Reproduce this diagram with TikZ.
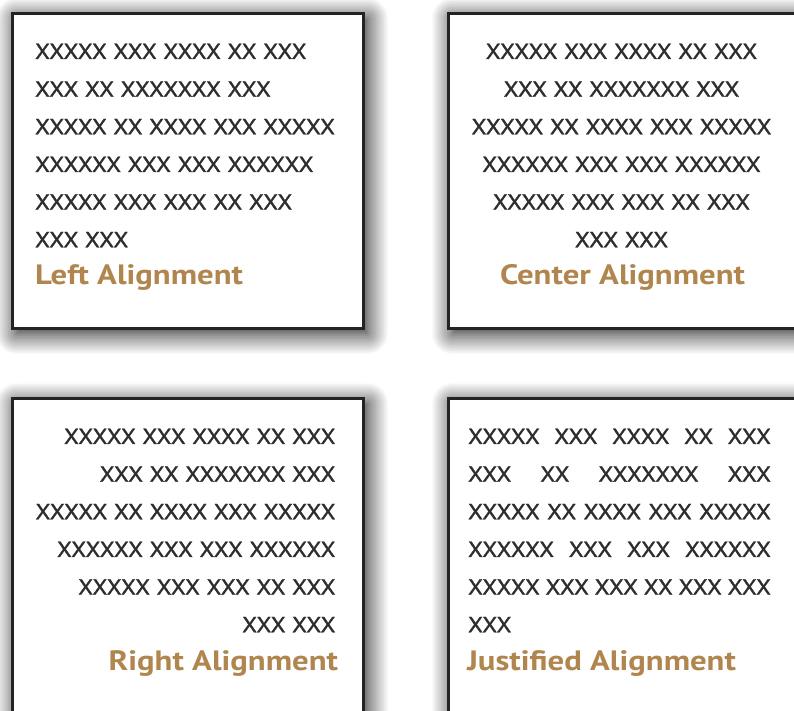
\documentclass[tikz,border=0pt]{standalone}
\usepackage{fontspec}
\usepackage{graphicx}
\setmainfont{PT Sans}
\newfontfamily\xfont[FakeBold=1.2]{PT Sans}
\usetikzlibrary{shadows.blur}
\definecolor{xgray}{RGB}{45,45,45}
\definecolor{labelbrown}{RGB}{176,134,78}
\definecolor{edgegray}{RGB}{35,35,35}
\newlength\wRef
\newlength\hRef
\newlength\wLab
\newlength\hLab
\newcommand\xl[1]{\scalebox{\kx}[\ky]{\xfont #1}}
\newcommand\xj[1]{\scalebox{\kx}[\ky]{\makebox[\wJ][s]{\xfont #1}}}
\newcommand\lb[1]{\scalebox{\lkx}[\lky]{\bfseries #1}}
\begin{document}
\settowidth\wRef{\xfont XXXXX XX XXXX XXX XXXXX}%
\settoheight\hRef{\xfont X}%
\settowidth\wLab{\bfseries Center Alignment}%
\settoheight\hLab{\bfseries C}%
\pgfmathsetmacro\kx{300/\wRef}%
\pgfmathsetmacro\ky{15.3/\hRef}%
\pgfmathsetmacro\lkx{245/\wLab}%
\pgfmathsetmacro\lky{20/\hLab}%
\pgfmathsetlengthmacro\wJ{303/\kx}%
\begin{tikzpicture}[x=1pt,y=1pt,
  panel/.style={draw=edgegray, line width=3.5pt, fill=white, rectangle,
    minimum width=351pt, minimum height=315pt, inner sep=0pt,
    blur shadow={shadow xshift=4pt, shadow yshift=-5pt, shadow blur radius=21pt, shadow blur steps=14, shadow opacity=95}},
  xline/.style={inner sep=0pt, outer sep=0pt, text=xgray},
  lab/.style={inner sep=0pt, outer sep=0pt, text=labelbrown}]
\useasboundingbox (0,0) rectangle (794,711);
\clip (0,0) rectangle (794,711);
% panels
\node[panel] (p1) at (188,540) {};
\node[panel] (p2) at (624,540) {};
\node[panel] (p3) at (188,155) {};
\node[panel] (p4) at (624,155) {};
% Left alignment
\node[xline, anchor=base west] (a1) at (35,652) {\xl{XXXXX XXX XXXX XX XXX}};
\node[xline, anchor=base west] (a2) at (35,614.3) {\xl{XXX XX XXXXXXX XXX}};
\node[xline, anchor=base west] (a3) at (35,576.7) {\xl{XXXXX XX XXXX XXX XXXXX}};
\node[xline, anchor=base west] (a4) at (35,539) {\xl{XXXXXX XXX XXX XXXXXX}};
\node[xline, anchor=base west] (a5) at (35,501.4) {\xl{XXXXX XXX XXX XX XXX}};
\node[xline, anchor=base west] (a6) at (35,463.7) {\xl{XXX XXX}};
\node[lab, anchor=base west] (la) at (35,426) {\lb{Left Alignment}};
% Center alignment
\node[xline, anchor=base] (b1) at (621.5,652) {\xl{XXXXX XXX XXXX XX XXX}};
\node[xline, anchor=base] (b2) at (621.5,614.3) {\xl{XXX XX XXXXXXX XXX}};
\node[xline, anchor=base] (b3) at (621.5,576.7) {\xl{XXXXX XX XXXX XXX XXXXX}};
\node[xline, anchor=base] (b4) at (621.5,539) {\xl{XXXXXX XXX XXX XXXXXX}};
\node[xline, anchor=base] (b5) at (621.5,501.4) {\xl{XXXXX XXX XXX XX XXX}};
\node[xline, anchor=base] (b6) at (621.5,463.7) {\xl{XXX XXX}};
\node[lab, anchor=base] (lb) at (622.5,426) {\lb{Center Alignment}};
% Right alignment
\node[xline, anchor=base east] (c1) at (335.5,267) {\xl{XXXXX XXX XXXX XX XXX}};
\node[xline, anchor=base east] (c2) at (335.5,229.3) {\xl{XXX XX XXXXXXX XXX}};
\node[xline, anchor=base east] (c3) at (335.5,191.7) {\xl{XXXXX XX XXXX XXX XXXXX}};
\node[xline, anchor=base east] (c4) at (335.5,154) {\xl{XXXXXX XXX XXX XXXXXX}};
\node[xline, anchor=base east] (c5) at (335.5,116.4) {\xl{XXXXX XXX XXX XX XXX}};
\node[xline, anchor=base east] (c6) at (335.5,78.7) {\xl{XXX XXX}};
\node[lab, anchor=base east] (lc) at (338,40) {\lb{Right Alignment}};
% Justified alignment
\node[xline, anchor=base west] (d1) at (468,267) {\xj{XXXXX XXX XXXX XX XXX}};
\node[xline, anchor=base west] (d2) at (468,229.3) {\xj{XXX XX XXXXXXX XXX}};
\node[xline, anchor=base west] (d3) at (468,191.7) {\xj{XXXXX XX XXXX XXX XXXXX}};
\node[xline, anchor=base west] (d4) at (468,154) {\xj{XXXXXX XXX XXX XXXXXX}};
\node[xline, anchor=base west] (d5) at (468,116.4) {\xj{XXXXX XXX XXX XX XXX XXX}};
\node[xline, anchor=base west] (d6) at (468,78.7) {\xl{XXX}};
\node[lab, anchor=base west] (ld) at (467,40) {\lb{Justified Alignment}};
\end{tikzpicture}
\end{document}
